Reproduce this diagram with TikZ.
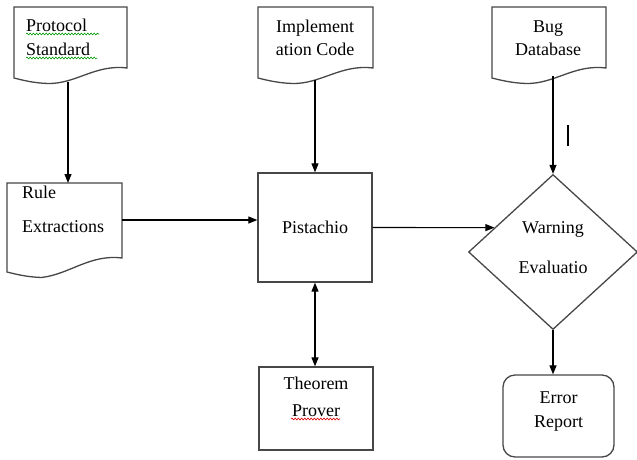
\documentclass[tikz,border=0pt]{standalone}
\usepackage{fontspec}
\setmainfont{Liberation Serif}
\usetikzlibrary{arrows.meta,shapes.geometric,calc,decorations.pathmorphing}
\newcommand\docshape[5]{%
  \draw[outline] (#1,#2) -- (#3,#2) -- (#3,#4)
    .. controls ({#3-0.28*(#3-#1)},{#4-4}) and ({#3-0.45*(#3-#1)},{#4+16}) .. ({#1+0.3*(#3-#1)},{#5+5.5})
    .. controls ({#1+0.17*(#3-#1)},{#5+5}) and ({#1+0.07*(#3-#1)},{#5+2}) .. (#1,#5) -- cycle;}
\begin{document}
\begin{tikzpicture}[x=1pt,y=-1pt,
  outline/.style={draw=black!72, line width=1.3pt},
  arr/.style={draw=black, line width=1.1pt, -{Triangle[length=9pt,width=7pt]}},
  darr/.style={draw=black, line width=1.1pt, {Triangle[length=9pt,width=7pt]}-{Triangle[length=9pt,width=7pt]}},
  txt/.style={inner sep=0pt, font=\fontsize{18}{#1}\selectfont},
  txt/.default=23,
  squig/.style={line width=0.6pt, decorate, decoration={snake, amplitude=0.9pt, segment length=3.2pt}}
]
\useasboundingbox (0,0) rectangle (637,459);

% document shapes
\docshape{14}{7}{127}{68}{78}
\docshape{258}{7}{373}{68}{78}
\docshape{492}{7}{606}{68}{78}
\docshape{7}{183}{122}{258}{272}

% document texts (anchor base = baseline of last line)
\node[txt=24, align=left, anchor=base west] (ps) at (26,55) {Protocol\\Standard};
\node[txt, align=center, anchor=base] (ic) at (315,55) {Implement\\ation Code};
\node[txt, align=center, anchor=base] (bd) at (548,55) {Bug\\Database};
\node[txt=34, align=left, anchor=base west] (re) at (22,232) {Rule\\Extractions};

% spell-check marks
\draw[squig, green!60!black] (26,34) -- (99,34);
\draw[squig, green!60!black] (26,58) -- (97,58);
\draw[squig, red!85!black] (291,419) -- (340,419);

% boxes
\node[outline, rectangle, minimum width=114pt, minimum height=109pt, inner sep=0pt,
      font=\fontsize{18}{23}\selectfont] (pist) at (315,227.5) {Pistachio};
\node[outline, rectangle, minimum width=114pt, minimum height=83pt] (thm) at (316,408.5) {};
\node[txt=27, align=center, anchor=base] (thmt) at (316,416) {Theorem\\Prover};
\node[outline, rectangle, rounded corners=12pt, minimum width=111pt, minimum height=82pt] (er) at (558.5,416) {};
\node[txt=24, align=center, anchor=base] (ert) at (558.5,427) {Error\\Report};
\node[outline, diamond, minimum width=169pt, minimum height=155pt, inner sep=0pt] (wd) at (553,252) {};
\node[txt=40, align=center, anchor=base] (wdt) at (553,273) {Warning\\Evaluatio};
\node[inner sep=0pt] (imark) at (568,135.5) {\rule{2.4pt}{21pt}};

% connector end points
\coordinate (psb) at (68,82);
\coordinate (icb) at (315,80);
\coordinate (bdb) at (553,76);
\coordinate (ret) at (68,183);
\coordinate (rer) at (122,220);
\coordinate (wdin) at ($(wd.west)!0.312!(wd.north)$);

% connectors
\draw[arr] (psb) -- (ret);
\draw[arr] (icb) -- (icb |- pist.north);
\draw[arr] (bdb) -- (wd.north);
\draw[arr] (rer) -- (rer -| pist.west);
\draw[arr] (pist.east) -- (wdin);
\draw[darr] (pist.south) -- (pist.south |- thm.north);
\draw[arr] (wd.south) -- (wd.south |- er.north);
\end{tikzpicture}
\end{document}
